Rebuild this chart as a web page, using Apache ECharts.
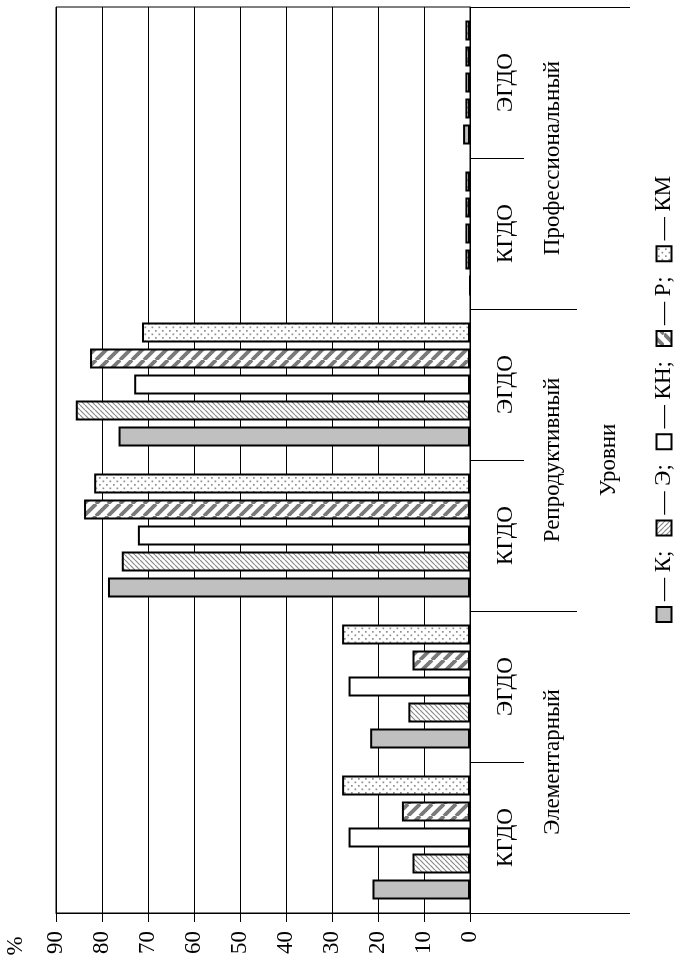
<!DOCTYPE html>
<html><head><meta charset="utf-8">
<script src="https://cdn.jsdelivr.net/npm/echarts@6/dist/echarts.min.js"></script>
<style>html,body{margin:0;padding:0;background:#fff}#chart{width:674px;height:959px}</style>
</head><body><div id="chart"></div>
<script>
// Level / sub-group categories (bottom to top) and series values, %
const subCategories = ['КГДО', 'ЭГДО', 'КГДО', 'ЭГДО', 'КГДО', 'ЭГДО'];
const levels = ['Элементарный', 'Репродуктивный', 'Профессиональный'];
const seriesNames = ['К', 'Э', 'КН', 'Р', 'КМ'];
const valuesK  = [21.2, 21.7, 78.7, 76.4, 0, 1.5];
const valuesE  = [12.5, 13.4, 75.7, 85.7, 1, 1];
const valuesKN = [26.4, 26.4, 72.2, 73.0, 1, 1];
const valuesR  = [14.8, 12.5, 83.9, 82.6, 1, 1];
const valuesKM = [27.8, 27.8, 81.7, 71.3, 1, 1];
const valueMin = 0, valueMax = 90, valueStep = 10;
const axisTitle = 'Уровни';
const unitLabel = '%';

const FONT = 'Liberation Serif';
const FS = 23;

function makeTile(size, draw) {
  const c = document.createElement('canvas');
  c.width = c.height = size;
  const g = c.getContext('2d');
  g.fillStyle = '#fff';
  g.fillRect(0, 0, size, size);
  draw(g, size);
  return c;
}
const hatchThin = makeTile(5, (g, s) => {
  g.strokeStyle = '#8a8a8a'; g.lineWidth = 1.2;
  for (const k of [-s, 0, s]) { g.beginPath(); g.moveTo(k, 0); g.lineTo(k + s, s); g.stroke(); }
});
const hatchBold = makeTile(12, (g, s) => {
  g.strokeStyle = '#7a7a7a'; g.lineWidth = 3.8;
  for (const k of [-s, 0, s]) { g.beginPath(); g.moveTo(k, s); g.lineTo(k + s, 0); g.stroke(); }
});
const dotTile = makeTile(7, (g, s) => {
  g.fillStyle = '#8f8f8f';
  g.fillRect(1, 1, 1.7, 1.7); g.fillRect(4.5, 4.5, 1.7, 1.7);
});
const fills = [
  '#c0c0c0',
  { image: hatchThin, repeat: 'repeat' },
  '#ffffff',
  { image: hatchBold, repeat: 'repeat' },
  { image: dotTile, repeat: 'repeat' }
];
const seriesValues = [valuesK, valuesE, valuesKN, valuesR, valuesKM];

const chart = echarts.init(document.getElementById('chart'), null, { renderer: 'canvas' });
const textBase = { fontFamily: FONT, fontSize: FS, color: '#000' };

// In a horizontal bar band the first series sits on top, so feed them in reverse
// to keep К at the bottom of each group.
const series = seriesNames.map((name, i) => ({
  type: 'bar', name, data: seriesValues[i],
  barWidth: 20, barGap: '30%',
  itemStyle: { color: fills[i], borderColor: '#000', borderWidth: 2 },
  emphasis: { disabled: true }, animation: false
})).reverse();

chart.setOption({
  animation: false,
  grid: { left: 56, right: 204, top: 7, bottom: 46, show: true, borderColor: '#000', borderWidth: 1, containLabel: false },
  xAxis: [{
    type: 'value', inverse: true, min: valueMin, max: valueMax, interval: valueStep, position: 'bottom',
    axisLine: { show: true, lineStyle: { color: '#000', width: 1 } },
    axisTick: { show: true, length: 9, lineStyle: { color: '#000' } },
    splitLine: { show: true, lineStyle: { color: '#000', width: 1 } },
    axisLabel: Object.assign({ rotate: 90, margin: 18 }, textBase)
  }],
  yAxis: [{
    type: 'category', data: subCategories, position: 'right',
    axisLine: { show: true, onZero: false, lineStyle: { color: '#000', width: 1 } },
    axisTick: { show: true, length: 54, lineStyle: { color: '#000' } },
    axisLabel: Object.assign({ rotate: 90, margin: 24 }, textBase),
    splitLine: { show: false }
  }, {
    type: 'category', data: levels, position: 'right',
    axisLine: { show: false },
    axisTick: { show: true, length: 107, lineStyle: { color: '#000' } },
    axisLabel: Object.assign({ rotate: 90, margin: 71 }, textBase),
    splitLine: { show: false }
  }, {
    type: 'category', data: [''], position: 'right',
    axisLine: { show: false },
    axisTick: { show: true, length: 160, lineStyle: { color: '#000' } },
    axisLabel: { show: false },
    splitLine: { show: false },
    name: axisTitle, nameLocation: 'middle', nameGap: 127, nameRotate: 90,
    nameTextStyle: textBase
  }],
  series
});

// Unit sign next to the value axis labels
const x90 = chart.convertToPixel({ xAxisIndex: 0 }, valueMax);
const graphics = [{
  type: 'text', x: x90 - 40, y: 946, rotation: Math.PI / 2,
  style: { text: unitLabel, font: FS + 'px ' + FONT, fill: '#000', align: 'center', verticalAlign: 'middle' }
}];

// Legend drawn as a rotated strip: swatch — name; ...
const meas = document.createElement('canvas').getContext('2d');
meas.font = FS + 'px ' + FONT;
const legendChildren = [];
let pos = 0;
seriesNames.forEach((name, i) => {
  legendChildren.push({
    type: 'rect', shape: { x: pos, y: -7.5, width: 15, height: 15 },
    style: { fill: fills[i], stroke: '#000', lineWidth: 2 }
  });
  pos += 15 + 6;
  const label = '— ' + name + (i < seriesNames.length - 1 ? ';' : '');
  legendChildren.push({
    type: 'text', x: pos, y: 0,
    style: { text: label, font: FS + 'px ' + FONT, fill: '#000', align: 'left', verticalAlign: 'middle' }
  });
  pos += meas.measureText(label).width + 15;
});
graphics.push({ type: 'group', x: 664, y: 622, rotation: Math.PI / 2, children: legendChildren });
chart.setOption({ graphic: graphics });
</script>
</body></html>
